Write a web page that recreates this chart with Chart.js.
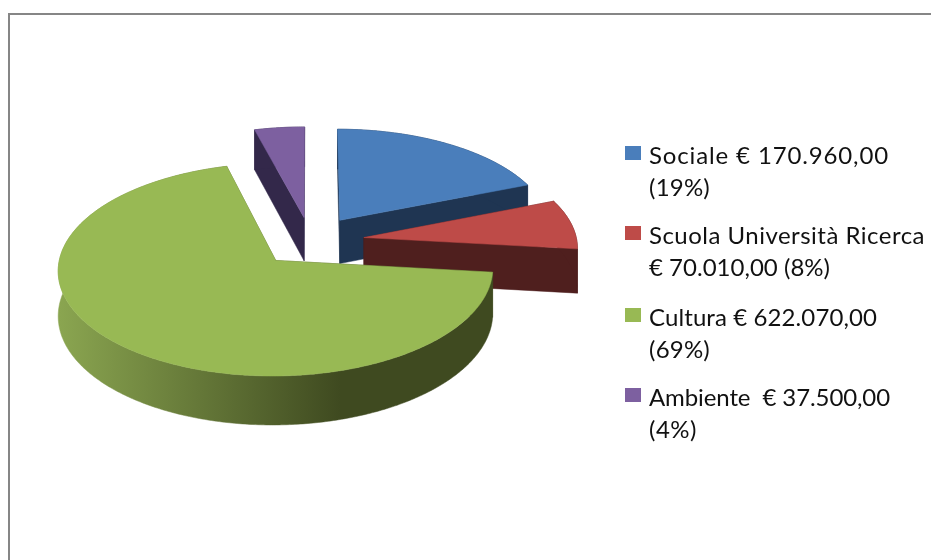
<!DOCTYPE html>
<html>
<head>
<meta charset="utf-8">
<style>html,body{margin:0;padding:0;background:#fff}canvas{display:block;filter:blur(0.5px)}</style>
<script src="https://cdn.jsdelivr.net/npm/chart.js@4/dist/chart.umd.js"></script>
</head>
<body>
<canvas id="c" width="931" height="560"></canvas>
<script>
const categories = ["Sociale € 170.960,00 (19%)", "Scuola Università Ricerca € 70.010,00 (8%)", "Cultura € 622.070,00 (69%)", "Ambiente € 37.500,00 (4%)"];
const legendFirstLines = ["Sociale € 170.960,00", "Scuola Università Ricerca", "Cultura € 622.070,00", "Ambiente  € 37.500,00"];
const legendSecondLines = ["(19%)", "€ 70.010,00 (8%)", "(69%)", "(4%)"];
const amounts = [170960, 70010, 622070, 37500];
const topColors = ["#4a7ebb", "#be4b48", "#98b954", "#7d60a0"];
const wallColors = ["#1f3552", "#4f1f1e", null, "#33284a"];
const sliceOffsets = [53, 54, 52.5, 50];

const SQUASH = 0.48, CAMERA = 2500, DEPTH = 44;
const LEGEND_ROWS_Y = [164, 244, 326, 406];
const LEGEND_FIRST_ENDS = [889, 925, 877, 890];
const LEGEND_SECOND_ENDS = [710, 830, 710, 697];

function sliceGeometry(el) {
  const mid = (el.startAngle + el.endAngle) / 2, off = el.options.offset;
  const ox = Math.cos(mid) * off, oy = Math.sin(mid) * off;
  const project = (X, Y, drop) => {
    const s = CAMERA / (CAMERA - Y);
    return [el.x + X * s, el.y + SQUASH * Y * s + (drop ? DEPTH * s : 0)];
  };
  const tip = [ox, oy], rim = [];
  const n = Math.ceil((el.endAngle - el.startAngle) * 90);
  for (let i = 0; i <= n; i++) {
    const a = el.startAngle + (el.endAngle - el.startAngle) * i / n;
    rim.push([ox + Math.cos(a) * el.outerRadius, oy + Math.sin(a) * el.outerRadius]);
  }
  return { tip, rim, project };
}
function poly(ctx, pts, fill) {
  ctx.beginPath();
  pts.forEach((p, i) => i ? ctx.lineTo(p[0], p[1]) : ctx.moveTo(p[0], p[1]));
  ctx.closePath();
  ctx.fillStyle = fill;
  ctx.strokeStyle = fill;
  ctx.lineWidth = 0.5;
  ctx.fill();
  ctx.stroke();
}
function fitText(ctx, t, x, y, end) {
  ctx.letterSpacing = "0px";
  const natural = ctx.measureText(t).width;
  ctx.letterSpacing = ((end - x - natural) / t.length) + "px";
  ctx.fillText(t, x, y);
}
const pie3d = {
  id: "pie3d",
  beforeDatasetsDraw(chart) {
    const ctx = chart.ctx, arcs = chart.getDatasetMeta(0).data;
    ctx.save();
    const greenWall = ctx.createLinearGradient(60, 0, 340, 0);
    greenWall.addColorStop(0, "#8aa550");
    greenWall.addColorStop(1, "#3f4a20");
    [3, 0, 1, 2].forEach(idx => {
      const el = arcs[idx], g = sliceGeometry(el), P = g.project;
      const wall = wallColors[idx] || greenWall;
      const first = g.rim[0], last = g.rim[g.rim.length - 1];
      [first, last].forEach(e => poly(ctx, [
        P(g.tip[0], g.tip[1]), P(e[0], e[1]), P(e[0], e[1], true), P(g.tip[0], g.tip[1], true)
      ], wall));
      const band = g.rim.map(p => P(p[0], p[1])).concat(g.rim.slice().reverse().map(p => P(p[0], p[1], true)));
      poly(ctx, band, wall);
      poly(ctx, [P(g.tip[0], g.tip[1])].concat(g.rim.map(p => P(p[0], p[1]))), topColors[idx]);
    });
    ctx.restore();
    return false;
  },
  afterDraw(chart) {
    const ctx = chart.ctx;
    ctx.save();
    ctx.strokeStyle = "#868686";
    ctx.lineWidth = 2;
    ctx.beginPath();
    ctx.moveTo(9, 560); ctx.lineTo(9, 14); ctx.lineTo(931, 14);
    ctx.stroke();
    ctx.font = "24px Lato";
    ctx.textBaseline = "alphabetic";
    legendFirstLines.forEach((t, i) => {
      const y = LEGEND_ROWS_Y[i];
      ctx.fillStyle = topColors[i];
      ctx.fillRect(625, y - 18, 16, 14);
      ctx.fillStyle = "#111";
      fitText(ctx, t, 649, y, LEGEND_FIRST_ENDS[i]);
      fitText(ctx, legendSecondLines[i], 649, y + 32, LEGEND_SECOND_ENDS[i]);
    });
    ctx.restore();
  }
};
new Chart(document.getElementById("c"), {
  type: "pie",
  data: {
    labels: categories,
    datasets: [{ data: amounts, backgroundColor: topColors, offset: sliceOffsets, borderWidth: 0 }]
  },
  options: {
    responsive: false,
    animation: false,
    radius: 213,
    layout: { padding: { left: 0, right: 310, top: 0, bottom: 78 } },
    plugins: { legend: { display: false }, tooltip: { enabled: false } }
  },
  plugins: [pie3d]
});
</script>
</body>
</html>
